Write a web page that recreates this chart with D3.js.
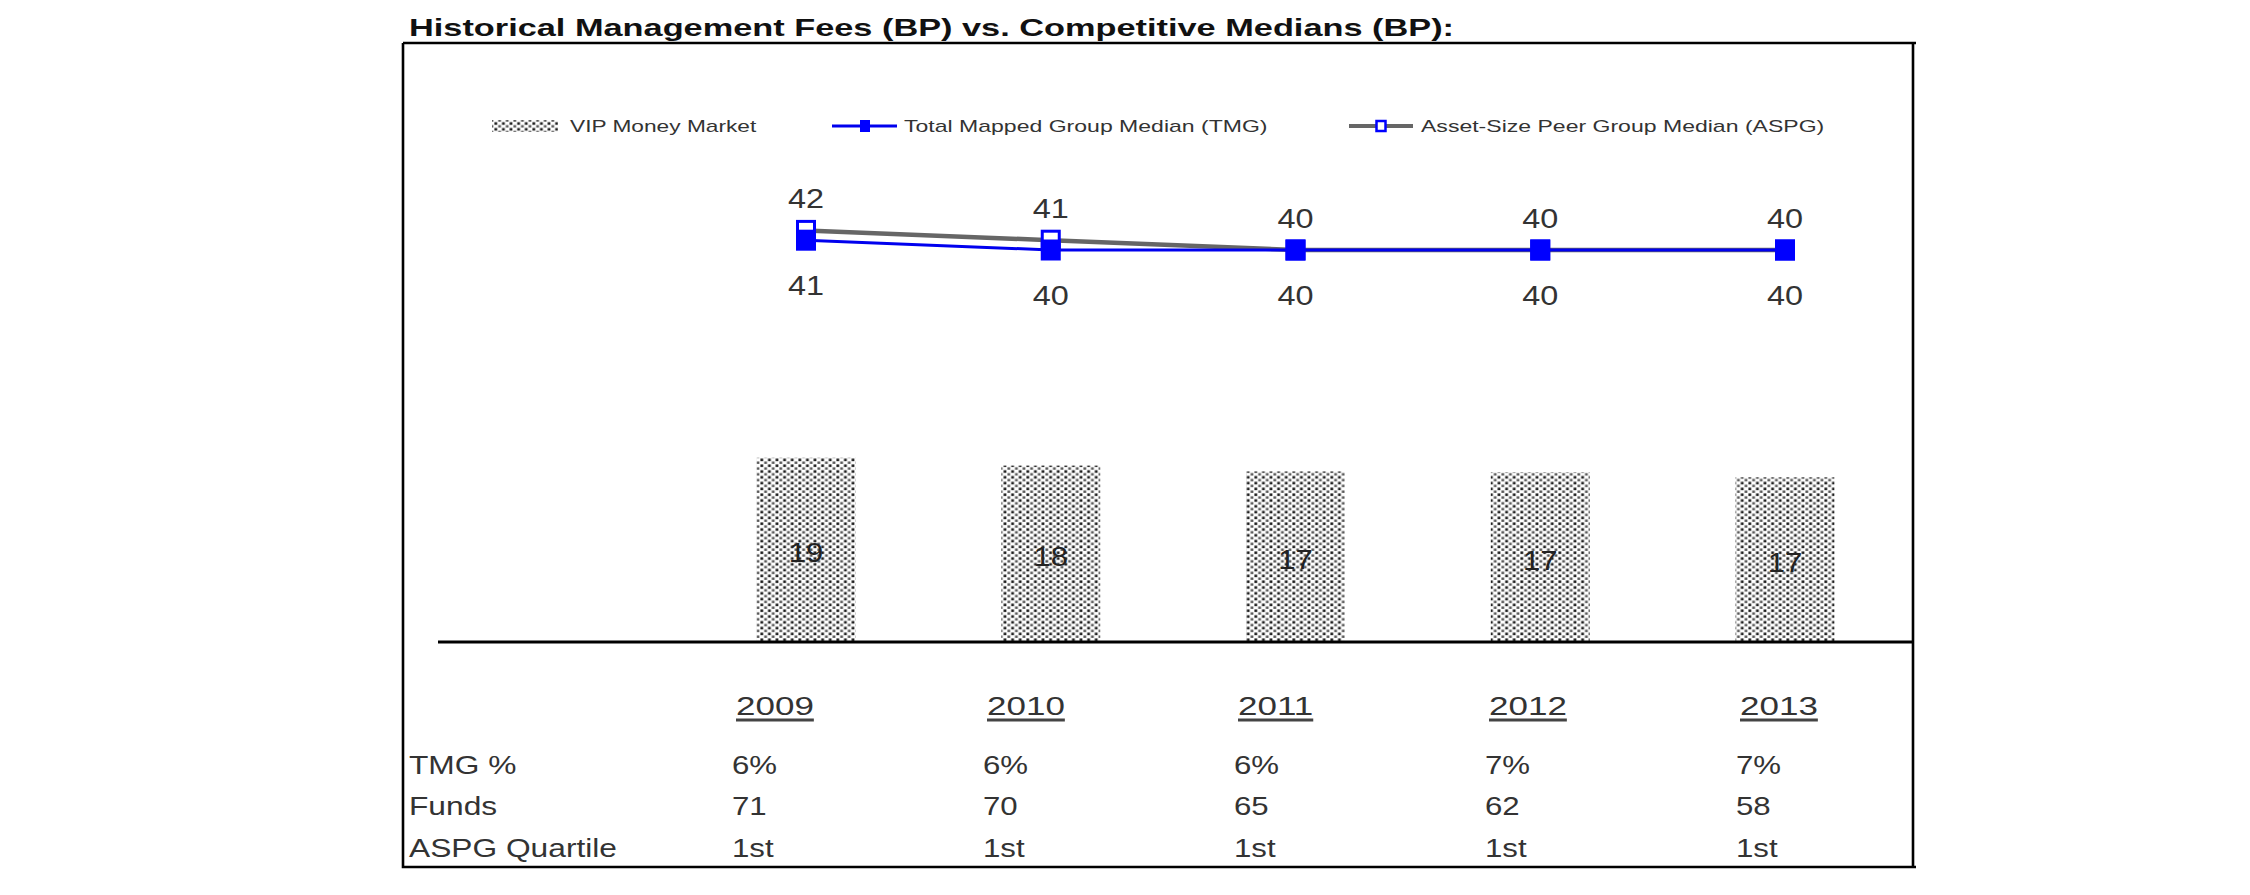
<!DOCTYPE html>
<html><head><meta charset="utf-8">
<script src="https://cdn.jsdelivr.net/npm/d3@7"></script>
<style>html,body{margin:0;padding:0;background:#fff;}svg{display:block;}</style>
</head><body>
<script>
// ---------- data ----------
const years = ["2009", "2010", "2011", "2012", "2013"];
const vipFees = [18.8, 18.0, 17.4, 17.3, 16.8];        // VIP Money Market (bars)
const tmgMedian = [41, 40, 40, 40, 40];                // Total Mapped Group Median
const aspgMedian = [42, 41, 40, 40, 40];               // Asset-Size Peer Group Median
const tmgPct = ["6%", "6%", "6%", "7%", "7%"];
const funds = ["71", "70", "65", "62", "58"];
const aspgQuartile = ["1st", "1st", "1st", "1st", "1st"];
const rowLabels = ["TMG %", "Funds", "ASPG Quartile"];
const titleText = "Historical Management Fees (BP) vs. Competitive Medians (BP):";
const legendLabels = ["VIP Money Market", "Total Mapped Group Median (TMG)", "Asset-Size Peer Group Median (ASPG)"];

// ---------- setup ----------
const W = 2250, H = 895;
const FONT = "'Liberation Sans', Arial, sans-serif";
const svg = d3.select("body").append("svg").attr("width", W).attr("height", H);
svg.append("rect").attr("width", W).attr("height", H).attr("fill", "#fff");

const defs = svg.append("defs");
const pat = defs.append("pattern").attr("id", "stipple").attr("patternUnits", "userSpaceOnUse")
  .attr("width", 7.6).attr("height", 5.8);
pat.append("rect").attr("width", 7.6).attr("height", 5.8).attr("fill", "#fff");
pat.append("rect").attr("x", 0.4).attr("y", 0.4).attr("width", 2.8).attr("height", 2.6).attr("fill", "#1e1e1e");
pat.append("rect").attr("x", 4.2).attr("y", 3.3).attr("width", 2.8).attr("height", 2.4).attr("fill", "#555");

function txt(parent, x, y, str, o) {
  o = o || {};
  const t = parent.append("text")
    .attr("transform", `translate(${x},${y}) scale(${o.sx || 1},1)`)
    .attr("font-family", FONT)
    .attr("font-size", o.size || 16)
    .attr("font-weight", o.weight || "normal")
    .attr("fill", o.fill || "#333")
    .attr("text-anchor", o.anchor || "start")
    .attr("dominant-baseline", "central")
    .text(str);
  return t;
}

// ---------- scales ----------
const x = d3.scalePoint().domain(years).range([806, 1785]);
const y = d3.scaleLinear().domain([0, 40]).range([642, 250]);
const barW = 99;
const colX = d3.scalePoint().domain(years).range([732, 1736]);

// ---------- title ----------
svg.append("text").attr("x", 409).attr("y", 27).attr("dominant-baseline", "central")
  .attr("font-family", FONT).attr("font-weight", "bold").attr("font-size", 24)
  .attr("fill", "#111").attr("textLength", 1045).attr("lengthAdjust", "spacingAndGlyphs")
  .text(titleText);

// ---------- frame ----------
const frame = { l: 403, t: 43, r: 1913, b: 867 };
svg.append("path")
  .attr("d", `M${frame.l},${frame.t}H${frame.r + 3}M${frame.l},${frame.t}V${frame.b}H${frame.r + 3}M${frame.r},${frame.t}V${frame.b}`)
  .attr("stroke", "#000").attr("stroke-width", 2.6).attr("fill", "none");

// ---------- bars ----------
const gBars = svg.append("g");
gBars.selectAll("rect").data(years).join("rect")
  .attr("x", d => x(d) - barW / 2)
  .attr("y", (d, i) => y(vipFees[i]))
  .attr("width", barW)
  .attr("height", (d, i) => y(0) - y(vipFees[i]))
  .attr("fill", "url(#stipple)");
years.forEach((d, i) => {
  txt(gBars, x(d), (y(vipFees[i]) + y(0)) / 2 + 3, d3.format(".0f")(vipFees[i]),
    { size: 27, sx: 1.15, anchor: "middle", fill: "#222" });
});

// baseline axis
const xAxis = d3.axisBottom(x).tickSize(0).tickFormat("");
const ax = svg.append("g").attr("transform", `translate(0,${y(0)})`).call(xAxis);
ax.select(".domain").remove();
svg.append("line").attr("x1", 438).attr("x2", frame.r).attr("y1", y(0)).attr("y2", y(0))
  .attr("stroke", "#000").attr("stroke-width", 3);

// ---------- lines ----------
const lineGen = d3.line().x(d => x(d[0])).y(d => y(d[1]));
const aspgPts = years.map((d, i) => [d, aspgMedian[i]]);
const tmgPts = years.map((d, i) => [d, tmgMedian[i]]);
svg.append("path").attr("d", lineGen(aspgPts)).attr("fill", "none")
  .attr("stroke", "#666").attr("stroke-width", 4.5);
svg.append("path").attr("d", lineGen(tmgPts)).attr("fill", "none")
  .attr("stroke", "#0000ee").attr("stroke-width", 3);

const mW = 20, mH = 21;
svg.append("g").selectAll("rect").data(aspgPts).join("rect")
  .attr("x", d => x(d[0]) - mW / 2 + 1.5).attr("y", d => y(d[1]) - mH / 2 + 1.5)
  .attr("width", mW - 3).attr("height", mH - 3)
  .attr("fill", "#fff").attr("stroke", "#0000ff").attr("stroke-width", 3);
svg.append("g").selectAll("rect").data(tmgPts).join("rect")
  .attr("x", d => x(d[0]) - mW / 2).attr("y", d => y(d[1]) - mH / 2)
  .attr("width", mW).attr("height", mH)
  .attr("fill", "#0000ff");

// line labels
aspgPts.forEach(d => txt(svg, x(d[0]), y(d[1]) - 32, String(d[1]), { size: 27, sx: 1.2, anchor: "middle" }));
tmgPts.forEach(d => txt(svg, x(d[0]), y(d[1]) + 45, String(d[1]), { size: 27, sx: 1.2, anchor: "middle" }));

// ---------- legend ----------
const lgY = 126;
const lg = svg.append("g");
lg.append("rect").attr("x", 492).attr("y", lgY - 6).attr("width", 66).attr("height", 12).attr("fill", "url(#stipple)");
txt(lg, 570, lgY, legendLabels[0], { size: 16, sx: 1.42 });
lg.append("line").attr("x1", 832).attr("x2", 897).attr("y1", lgY).attr("y2", lgY).attr("stroke", "#0000ee").attr("stroke-width", 3);
lg.append("rect").attr("x", 860).attr("y", lgY - 6).attr("width", 10).attr("height", 12).attr("fill", "#0000ff");
txt(lg, 904, lgY, legendLabels[1], { size: 16, sx: 1.44 });
lg.append("line").attr("x1", 1349).attr("x2", 1413).attr("y1", lgY).attr("y2", lgY).attr("stroke", "#666").attr("stroke-width", 4);
lg.append("rect").attr("x", 1376.5).attr("y", lgY - 5).attr("width", 9).attr("height", 10).attr("fill", "#fff").attr("stroke", "#0000ff").attr("stroke-width", 2.5);
txt(lg, 1421, lgY, legendLabels[2], { size: 16, sx: 1.44 });

// ---------- table ----------
const tb = svg.append("g");
years.forEach(d => {
  const t = txt(tb, colX(d) + 4, 706, d, { size: 25, sx: 1.4, fill: "#333" });
  const w = t.node().getComputedTextLength() * 1.4;
  tb.append("line").attr("x1", colX(d) + 4).attr("x2", colX(d) + 4 + w).attr("y1", 720).attr("y2", 720)
    .attr("stroke", "#444").attr("stroke-width", 3);
});
const rowsY = [765, 806, 848];
const rowData = [tmgPct, funds, aspgQuartile];
rowLabels.forEach((r, k) => {
  txt(tb, 409, rowsY[k], r, { size: 26, sx: 1.22 });
  years.forEach((d, i) => txt(tb, colX(d), rowsY[k], rowData[k][i], { size: 26, sx: 1.2 }));
});
</script>
</body></html>
